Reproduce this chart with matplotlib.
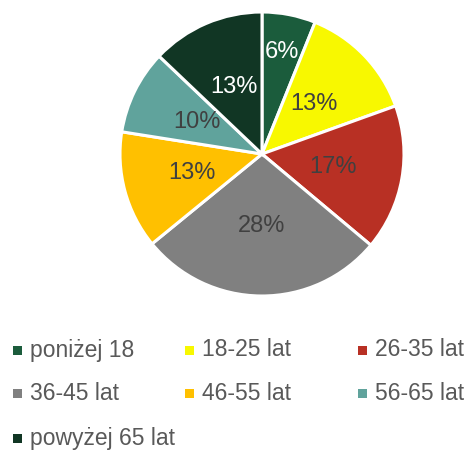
import matplotlib.pyplot as plt
from matplotlib.patches import Rectangle
import numpy as np

labels = ["poniżej 18", "18-25 lat", "26-35 lat", "36-45 lat",
          "46-55 lat", "56-65 lat", "powyżej 65 lat"]
values = [6.1, 13.4, 16.6, 28.0, 13.4, 9.6, 12.9]
colors = ["#1b5c3c", "#f8f800", "#b83024", "#808080",
          "#ffc000", "#60a39c", "#113624"]
label_colors = ["white", "#404040", "#404040", "#404040",
                "#404040", "#404040", "white"]

plt.rcParams['font.family'] = ['Liberation Sans', 'DejaVu Sans']

fig = plt.figure(figsize=(4.7, 4.5), dpi=100)
W, H = 470, 450
cx, cy, r = 262, 154, 142
ax = fig.add_axes([(cx - r) / W, 1 - (cy + r) / H, 2 * r / W, 2 * r / H])

wedges, texts, autotexts = ax.pie(
    values, colors=colors, startangle=90, counterclock=False,
    autopct="%.0f%%", pctdistance=0.51,
    wedgeprops=dict(edgecolor="white", linewidth=2.2),
    textprops=dict(fontsize=17))
ax.set_aspect("equal")
ax.set_xlim(-1.0, 1.0)
ax.set_ylim(-1.0, 1.0)

for t, c in zip(autotexts, label_colors):
    t.set_color(c)

# small first slice: label sits further out
w = wedges[0]
ang = np.deg2rad((w.theta1 + w.theta2) / 2)
autotexts[0].set_position((0.73 * np.cos(ang), 0.73 * np.sin(ang)))

# legend, row by row in three columns
col_x = [13, 185, 358]
row_y = [350, 393, 438]
for i, (lab, col) in enumerate(zip(labels, colors)):
    x = col_x[i % 3]
    y = row_y[i // 3]
    fig.patches.append(Rectangle((x / W, 1 - (y + 4.5) / H), 9 / W, 9 / H,
                                 transform=fig.transFigure, facecolor=col,
                                 edgecolor="none"))
    fig.text((x + 17) / W, 1 - y / H, lab, fontsize=16.5, color="#595959",
             va="center", ha="left")

fig.savefig("out.png", dpi=100)
